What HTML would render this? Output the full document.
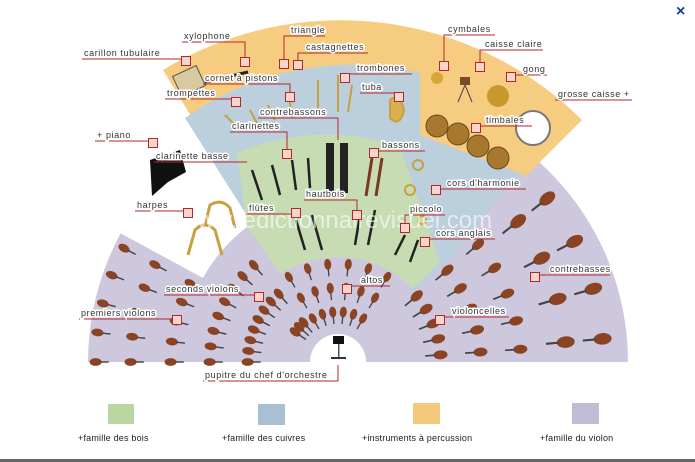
<!DOCTYPE html>
<html><head><meta charset="utf-8"><style>
html,body{margin:0;padding:0;background:#fff;width:695px;height:462px;overflow:hidden}
svg{display:block}
text{font-family:"Liberation Sans",sans-serif;font-size:9px;letter-spacing:0.6px;fill:#333}
.lb{paint-order:stroke;stroke:#fff;stroke-width:3px}
.ln{fill:none;stroke:#b5262b;stroke-width:1}
.bx{fill:#f6d6cc;stroke:#b5262b;stroke-width:1}
.lg{font-size:9px;letter-spacing:0.2px;fill:#222}
</style></head><body>
<svg id="s" width="695" height="462" viewBox="0 0 695 462" xmlns="http://www.w3.org/2000/svg">
<!-- regions -->
<path d="M88 362 A270 270 0 0 1 628 362 Z" fill="#cdc8dd"/>
<path d="M120 233 L203 278 L252 222 L150 60 L40 150 Z" fill="#fff"/>
<path d="M340 362 L163 70 A342 342 0 0 1 582 120 Z" fill="#f6cd80"/>
<path d="M340 362 L185 118 A288 288 0 0 1 420 73 L420 135 L520 173 L447 262 Z" fill="#bccfdd"/>
<path d="M338 362 L247 227 L237 153 A225 225 0 0 1 400 147 L440 262 Z" fill="#c7dcb2"/>
<path d="M338 362 L203 278 A160 160 0 0 1 247 227 L300 300 Z" fill="#cdc8dd"/>
<path d="M233 362 A105 105 0 0 1 443 362 Z" fill="#cdc8dd"/>
<path d="M338 362 L447 262 L520 173 L560 200 L500 362 Z" fill="#cdc8dd"/>
<path d="M310 362 A28 28 0 0 1 366 362 Z" fill="#fff"/>
<g id="vi"></g>
<!-- podium -->
<rect x="333" y="336" width="11" height="8" fill="#111"/><rect x="338" y="344" width="1.5" height="14" fill="#555"/><rect x="331" y="357" width="15" height="2" fill="#333"/>
<!-- percussion -->
<rect x="176" y="70" width="26" height="22" fill="#d9c9a0" stroke="#555" transform="rotate(-25 189 81)"/>
<line x1="205" y1="82" x2="248" y2="72" stroke="#222" stroke-width="3"/>
<circle cx="437" cy="78" r="6" fill="#d6a83a"/><circle cx="498" cy="96" r="11" fill="#c9992e"/>
<rect x="460" y="77" width="10" height="8" fill="#7a4a2a"/><line x1="465" y1="85" x2="458" y2="102" stroke="#444"/><line x1="465" y1="85" x2="472" y2="102" stroke="#444"/>
<circle cx="533" cy="128" r="17" fill="#fff" stroke="#777" stroke-width="2"/>
<g fill="#a8782f" stroke="#6b4a1e"><ellipse cx="437" cy="126" rx="11" ry="11"/><ellipse cx="458" cy="134" rx="11" ry="11"/><ellipse cx="478" cy="146" rx="11" ry="11"/><ellipse cx="498" cy="158" rx="11" ry="11"/></g>
<!-- brass -->
<g stroke="#c9a040" stroke-width="2" fill="none"><line x1="318" y1="80" x2="318" y2="110"/><line x1="338" y1="75" x2="338" y2="112"/><line x1="352" y1="85" x2="348" y2="112"/><path d="M390 100 q10 -8 14 10 q-4 18 -14 8z" fill="#d8b050"/><line x1="225" y1="115" x2="240" y2="130"/><line x1="250" y1="110" x2="258" y2="125"/><line x1="268" y1="105" x2="275" y2="120"/><line x1="290" y1="102" x2="292" y2="118"/><circle cx="418" cy="165" r="5"/><circle cx="410" cy="190" r="5"/><circle cx="422" cy="220" r="4"/></g>
<!-- woodwinds -->
<g stroke="#222" stroke-width="2.5"><line x1="252" y1="170" x2="262" y2="200"/><line x1="272" y1="165" x2="280" y2="195"/><line x1="292" y1="160" x2="296" y2="190"/><line x1="308" y1="158" x2="310" y2="188"/><line x1="312" y1="215" x2="322" y2="250"/><line x1="296" y1="220" x2="305" y2="250"/><line x1="360" y1="215" x2="355" y2="245"/><line x1="375" y1="210" x2="368" y2="245"/><line x1="405" y1="235" x2="395" y2="255"/><line x1="418" y1="240" x2="410" y2="262"/></g>
<rect x="326" y="143" width="8" height="50" fill="#222"/><rect x="340" y="143" width="8" height="50" fill="#222"/>
<g stroke="#7a3a20" stroke-width="3"><line x1="372" y1="158" x2="366" y2="196"/><line x1="382" y1="158" x2="376" y2="196"/></g>
<!-- piano & harps -->
<path d="M150 160 L180 150 L186 172 L168 182 L152 196 Z" fill="#111"/>
<g stroke="#c9a040" stroke-width="3" fill="none"><path d="M188 255 L195 230 Q205 220 215 230 L222 255"/><path d="M205 225 L210 205 Q222 198 230 208 L235 228"/></g>
<text x="180" y="228" style="font-size:24px;letter-spacing:0;fill:#fff;opacity:0.6">www.ledictionnairevisuel.com</text>
<!-- labels -->
<g class="ln">
<path d="M82 59 H186"/><path d="M182 42 H245 V57"/><path d="M325 36 H284 V59"/><path d="M368 53 H298 V60"/><path d="M203 84 H290 V92"/><path d="M412 74 H345 V73"/><path d="M360 93 H399 V92"/><path d="M165 99 H236"/><path d="M258 118 H338 V140"/><path d="M230 132 H287 V149"/><path d="M95 141 H153"/><path d="M154 162 H247"/><path d="M425 151 H374"/><path d="M495 35 H444 V61"/><path d="M543 50 H480 V62"/><path d="M547 75 H511"/><path d="M632 100 H555"/><path d="M532 126 H476"/><path d="M526 189 H436"/><path d="M445 215 H405 V223"/><path d="M495 239 H425"/><path d="M304 200 H357 V210"/><path d="M247 214 H296"/><path d="M135 211 H188"/><path d="M164 295 H259"/><path d="M79 319 H177"/><path d="M390 286 H347"/><path d="M509 317 H440"/><path d="M610 275 H535"/><path d="M203 381 H338 V365"/>
</g>
<g class="bx">
<rect x="181.5" y="56.5" width="9" height="9"/><rect x="240.5" y="57.5" width="9" height="9"/><rect x="279.5" y="59.5" width="9" height="9"/><rect x="293.5" y="60.5" width="9" height="9"/><rect x="285.5" y="92.5" width="9" height="9"/><rect x="340.5" y="73.5" width="9" height="9"/><rect x="394.5" y="92.5" width="9" height="9"/><rect x="231.5" y="97.5" width="9" height="9"/><rect x="282.5" y="149.5" width="9" height="9"/><rect x="148.5" y="138.5" width="9" height="9"/><rect x="369.5" y="148.5" width="9" height="9"/><rect x="439.5" y="61.5" width="9" height="9"/><rect x="475.5" y="62.5" width="9" height="9"/><rect x="506.5" y="72.5" width="9" height="9"/><rect x="471.5" y="123.5" width="9" height="9"/><rect x="431.5" y="185.5" width="9" height="9"/><rect x="400.5" y="223.5" width="9" height="9"/><rect x="420.5" y="237.5" width="9" height="9"/><rect x="352.5" y="210.5" width="9" height="9"/><rect x="291.5" y="208.5" width="9" height="9"/><rect x="183.5" y="208.5" width="9" height="9"/><rect x="254.5" y="292.5" width="9" height="9"/><rect x="172.5" y="315.5" width="9" height="9"/><rect x="342.5" y="284.5" width="9" height="9"/><rect x="435.5" y="315.5" width="9" height="9"/><rect x="530.5" y="272.5" width="9" height="9"/>
</g>
<g class="lb">
<text x="84" y="56">carillon tubulaire</text><text x="184" y="39">xylophone</text><text x="291" y="33">triangle</text><text x="306" y="50">castagnettes</text><text x="205" y="81">cornet à pistons</text><text x="357" y="71">trombones</text><text x="362" y="90">tuba</text><text x="167" y="96">trompettes</text><text x="260" y="115">contrebassons</text><text x="232" y="129">clarinettes</text><text x="97" y="138">+ piano</text><text x="156" y="159">clarinette basse</text><text x="382" y="148">bassons</text><text x="448" y="32">cymbales</text><text x="485" y="47">caisse claire</text><text x="523" y="72">gong</text><text x="558" y="97">grosse caisse +</text><text x="486" y="123">timbales</text><text x="447" y="186">cors d'harmonie</text><text x="410" y="212">piccolo</text><text x="436" y="236">cors anglais</text><text x="306" y="197">hautbois</text><text x="249" y="211">flûtes</text><text x="137" y="208">harpes</text><text x="166" y="292">seconds violons</text><text x="81" y="316">premiers violons</text><text x="361" y="283">altos</text><text x="452" y="314">violoncelles</text><text x="550" y="272">contrebasses</text><text x="205" y="378">pupitre du chef d'orchestre</text>
</g>
<!-- legend -->
<rect x="108" y="404" width="26" height="20" fill="#b9d5a0"/><rect x="258" y="404" width="27" height="21" fill="#a9c0d2"/><rect x="413" y="403" width="27" height="21" fill="#f5c97a"/><rect x="572" y="403" width="27" height="21" fill="#c0bcd6"/>
<text class="lg" x="78" y="441">+famille des bois</text><text class="lg" x="222" y="441">+famille des cuivres</text><text class="lg" x="362" y="441">+instruments à percussion</text><text class="lg" x="540" y="441">+famille du violon</text>
<text x="676" y="16" style="font-size:16px;font-weight:bold;fill:#1a3d8f;letter-spacing:0">×</text>
<rect x="0" y="459" width="695" height="3" fill="#666"/>
</svg>
<script>
(function(){
var g=document.getElementById('vi'),ns='http://www.w3.org/2000/svg';
function v(cx,cy,a,r,s){var x=cx+r*Math.cos(a*Math.PI/180),y=cy-r*Math.sin(a*Math.PI/180);
var e=document.createElementNS(ns,'g');e.setAttribute('transform','translate('+x+' '+y+') rotate('+(-a+180)+')');
e.innerHTML='<ellipse cx="-'+(2*s)+'" cy="0" rx="'+(5*s)+'" ry="'+(3.2*s)+'" fill="#8a4424"/><line x1="'+(2*s)+'" y1="0" x2="'+(9*s)+'" y2="0" stroke="#444" stroke-width="'+(1.2*s)+'"/>';g.appendChild(e);}
var cx=338,cy=362,a,i,r;
for(a=180;a>=126;a-=7){var rs=[50,88,126,165,205,240];for(i=0;i<rs.length;i++){r=rs[i];if(a<150&&r>160)continue;if(a>=150&&r<80)continue;v(cx,cy,a,r,1.2);}}
for(a=120;a>=60;a-=12){[48,72,96].forEach(function(r){v(cx,cy,a,r,1.1);});}
for(a=4;a<=40;a+=9){[100,140,180].forEach(function(r){v(cx,cy,a,r,1.4);});}
for(a=5;a<=40;a+=11){[225,262].forEach(function(r){if(r*Math.cos(a*Math.PI/180)+cx<615)v(cx,cy,a,r,1.8);});}
})();
</script>
</body></html>
